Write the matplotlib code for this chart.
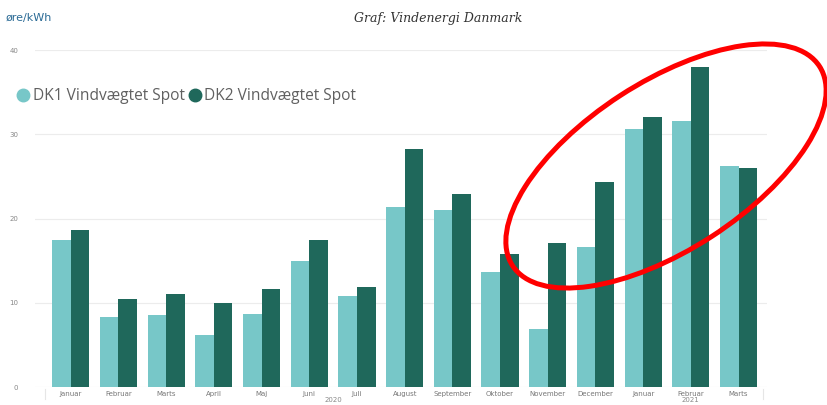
import numpy as np
import matplotlib.pyplot as plt
from matplotlib.patches import Ellipse
from matplotlib.lines import Line2D

months = ['Januar', 'Februar', 'Marts', 'April', 'Maj', 'Juni', 'Juli', 'August',
          'September', 'Oktober', 'November', 'December', 'Januar', 'Februar', 'Marts']
years = ['2020', '2021']
year_span = [(0, 11), (12, 14)]

dk1 = [17.5, 8.35, 8.5, 6.2, 8.7, 14.9, 10.8, 21.4, 21.0, 13.7, 6.9, 16.6, 30.6, 31.6, 26.2]
dk2 = [18.6, 10.5, 11.1, 10.0, 11.6, 17.5, 11.9, 28.3, 22.9, 15.8, 17.1, 24.3, 32.1, 38.0, 26.0]

c1 = '#77c7c8'
c2 = '#1f685b'

fig = plt.figure(figsize=(8.28, 4.05), dpi=100)
ax = fig.add_axes([0.0423, 0.0444, 0.8837, 0.8321])

x = np.arange(len(months))
w = 0.39
ax.bar(x - w/2, dk1, w, color=c1, zorder=2)
ax.bar(x + w/2, dk2, w, color=c2, zorder=2)

ax.set_xlim(-0.75, 14.59)
ax.set_ylim(0, 40)
ax.set_yticks([0, 10, 20, 30, 40])
ax.grid(axis='y', color='#ececec', linewidth=0.8, zorder=0)
for s in ax.spines.values():
    s.set_visible(False)
ax.tick_params(axis='y', length=0, labelsize=5, labelcolor='#888888', pad=12)
ax.tick_params(axis='x', length=0, labelsize=5, labelcolor='#777777', pad=3)
ax.set_xticks(x)
ax.set_xticklabels(months)

# year labels under the months
for yr, (a, b) in zip(years, year_span):
    ax.text((a + b) / 2, -0.03, yr, transform=ax.get_xaxis_transform(),
            ha='center', va='top', fontsize=5, color='#888888')
# light separators at the ends of the category axis
for xs in [-0.55, 14.52]:
    ax.plot([xs, xs], [-0.005, -0.035], transform=ax.get_xaxis_transform(),
            color='#e6e6e6', linewidth=0.8, clip_on=False)

# legend
handles = [Line2D([], [], marker='o', linestyle='', markersize=9, color=c1),
           Line2D([], [], marker='o', linestyle='', markersize=9, color=c2)]
ax.legend(handles, ['DK1 Vindvægtet Spot', 'DK2 Vindvægtet Spot'],
          loc='upper left', bbox_to_anchor=(-0.048, 0.928), ncol=2, frameon=False,
          handletextpad=0.0, columnspacing=0.05, handlelength=1.2,
          labelcolor='#606060', prop={'family': 'Open Sans', 'size': 11.2})

fig.text(0.007, 0.955, 'øre/kWh', fontsize=8, color='#2a6a95', va='center')
fig.text(0.529, 0.955, 'Graf: Vindenergi Danmark', fontsize=9, style='italic',
         family='DejaVu Serif', color='#333333', ha='center', va='center')

# red highlight ellipse
ell = Ellipse((6.66, 2.39), 3.66, 1.68, angle=33, transform=fig.dpi_scale_trans,
              fill=False, edgecolor='#ff0000', linewidth=3.6, clip_on=False, zorder=5)
fig.add_artist(ell)

fig.savefig('out.png', dpi=100)
